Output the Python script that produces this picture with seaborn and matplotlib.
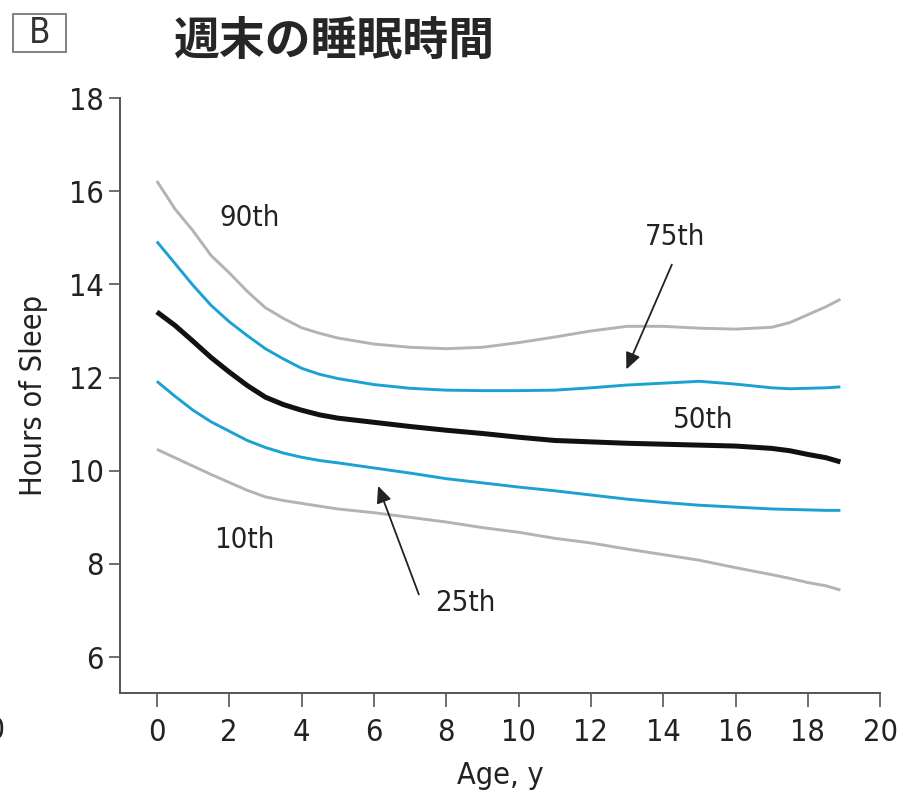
import numpy as np
import pandas as pd
import seaborn as sns
import matplotlib
import matplotlib.pyplot as plt
from matplotlib.patches import Rectangle

matplotlib.use("Agg")

# percentiles of weekend sleep
ages = [0, 0.5, 1, 1.5, 2, 2.5, 3, 3.5, 4, 4.5, 5, 6, 7, 8, 9, 10, 11, 12, 13,
        14, 15, 16, 17, 17.5, 18, 18.5, 18.9]
p90 = [16.22, 15.62, 15.15, 14.62, 14.25, 13.85, 13.5, 13.27, 13.07, 12.95,
       12.85, 12.72, 12.65, 12.62, 12.65, 12.75, 12.87, 13.0, 13.1, 13.1,
       13.06, 13.04, 13.08, 13.18, 13.35, 13.52, 13.68]
p75 = [14.92, 14.45, 13.98, 13.55, 13.2, 12.9, 12.62, 12.4, 12.2, 12.07,
       11.98, 11.85, 11.77, 11.73, 11.72, 11.72, 11.73, 11.78, 11.84, 11.88,
       11.92, 11.86, 11.78, 11.76, 11.77, 11.78, 11.8]
p50 = [13.41, 13.12, 12.78, 12.43, 12.12, 11.83, 11.58, 11.42, 11.3, 11.2,
       11.13, 11.04, 10.95, 10.87, 10.8, 10.72, 10.65, 10.62, 10.59, 10.57,
       10.55, 10.53, 10.48, 10.43, 10.35, 10.28, 10.19]
p25 = [11.92, 11.6, 11.3, 11.05, 10.85, 10.65, 10.5, 10.38, 10.29, 10.22,
       10.17, 10.06, 9.95, 9.83, 9.74, 9.65, 9.57, 9.48, 9.39, 9.32,
       9.26, 9.22, 9.18, 9.17, 9.16, 9.15, 9.15]
p10 = [10.46, 10.28, 10.1, 9.92, 9.75, 9.58, 9.44, 9.36, 9.3, 9.24,
       9.18, 9.1, 9.0, 8.9, 8.78, 8.68, 8.55, 8.45, 8.32, 8.2,
       8.08, 7.92, 7.77, 7.69, 7.6, 7.53, 7.44]

x_ticks = [0, 2, 4, 6, 8, 10, 12, 14, 16, 18, 20]
y_ticks = [6, 8, 10, 12, 14, 16, 18]

gray = "#b3b3b3"
blue = "#1ba1d2"

sns.set_style("ticks")
plt.rcParams["font.family"] = ["DejaVu Sans"]
plt.rcParams["font.stretch"] = "condensed"
plt.rcParams["axes.edgecolor"] = "#555555"
plt.rcParams["xtick.color"] = "#555555"
plt.rcParams["ytick.color"] = "#555555"

fig = plt.figure(figsize=(9.04, 7.97), dpi=100)
ax = fig.add_axes([0.1327, 0.1305, 0.841, 0.7465])

for vals, col, lw in [(p90, gray, 2.1), (p75, blue, 2.1), (p50, "#111111", 3.6),
                      (p25, blue, 2.1), (p10, gray, 2.1)]:
    sns.lineplot(x=ages, y=vals, color=col, lw=lw, ax=ax, solid_capstyle="butt")

ax.set_xlim(-1.02, 20)
ax.set_ylim(5.23, 18)
ax.set_xticks(x_ticks)
ax.set_yticks(y_ticks)
ax.tick_params(axis="both", labelsize=22, labelcolor="#222222", length=8, width=1.2)
ax.tick_params(axis="x", length=10, pad=8)
for s in ["left", "bottom"]:
    ax.spines[s].set_linewidth(1.4)
sns.despine(ax=ax)

ax.set_xlabel("Age, y", fontsize=22, color="#222222", labelpad=10)
ax.set_ylabel("Hours of Sleep", fontsize=22, color="#222222", labelpad=15)

# percentile labels
lab = dict(fontsize=21, color="#222222", ha="center", va="center")
ax.text(2.57, 15.42, "90th", **lab)
ax.text(14.33, 15.02, "75th", **lab)
ax.text(15.1, 11.09, "50th", **lab)
ax.text(2.43, 8.51, "10th", **lab)
ax.text(8.52, 7.16, "25th", **lab)
arrow = dict(arrowstyle="-|>,head_length=1.0,head_width=0.45", color="#222222", lw=1.3)
ax.annotate("", xy=(12.95, 12.12), xytext=(14.27, 14.48), arrowprops=arrow)
ax.annotate("", xy=(6.09, 9.73), xytext=(7.27, 7.29), arrowprops=arrow)

# title and panel tag
fig.text(0.37, 0.947, "週末の睡眠時間", fontsize=33, fontweight="bold",
         family=["Noto Sans CJK JP", "DejaVu Sans"], ha="center", va="center")
fig.patches.append(Rectangle((0.0144, 0.9347), 0.0586, 0.0477, transform=fig.transFigure,
                             fill=False, ec="#777777", lw=1.3))
fig.text(0.0437, 0.958, "B", fontsize=25, color="#333333", ha="center", va="center")
fig.text(0.006, 0.083, "20", fontsize=22, color="#222222", ha="right", va="center")

fig.savefig("out.png", dpi=100)
